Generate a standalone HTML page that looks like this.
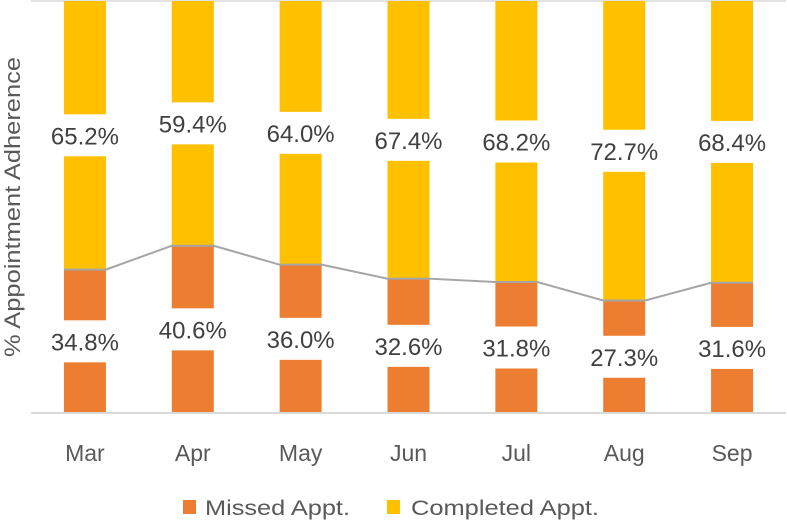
<!DOCTYPE html>
<html><head><meta charset="utf-8"><style>
html,body{margin:0;padding:0;background:#fff;}
svg{display:block;font-family:"Liberation Sans",sans-serif;}
</style></head><body>
<svg id="chart" width="787" height="521" viewBox="0 0 787 521">
  <line x1="31" y1="1" x2="786" y2="1" stroke="#d9d9d9" stroke-width="1.5"/>
  <g id="bars"></g>
  <line x1="31" y1="413" x2="786" y2="413" stroke="#d9d9d9" stroke-width="2"/>
  <text x="0" y="0" transform="translate(20,207) rotate(-90)" text-anchor="middle" font-size="22" fill="#595959" textLength="300" lengthAdjust="spacingAndGlyphs">% Appointment Adherence</text>
  <g>
    <rect x="183" y="500" width="13" height="14" fill="#ed7d31"/>
    <text x="205" y="515" font-size="21" fill="#595959" textLength="145" lengthAdjust="spacingAndGlyphs">Missed Appt.</text>
    <rect x="387" y="500" width="13" height="14" fill="#ffc000"/>
    <text x="411" y="515" font-size="21" fill="#595959" textLength="188" lengthAdjust="spacingAndGlyphs">Completed Appt.</text>
  </g>
</svg>
<script>
const months = ["Mar","Apr","May","Jun","Jul","Aug","Sep"];
const missed = [34.8, 40.6, 36.0, 32.6, 31.8, 27.3, 31.6];
const completed = [65.2, 59.4, 64.0, 67.4, 68.2, 72.7, 68.4];

const NS = "http://www.w3.org/2000/svg";
const svg = document.getElementById("chart");
const g = document.getElementById("bars");
const x0 = 31, x1 = 786, yTop = 1, yBase = 413;
const band = (x1 - x0) / months.length;
const barW = 42;
function xc(i){ return x0 + band * (i + 0.5); }
function y(v){ return yBase - (yBase - yTop) * v / 100; }
function mk(tag, attrs){ const e = document.createElementNS(NS, tag); for (const k in attrs) e.setAttribute(k, attrs[k]); return e; }

let pts = [];
months.forEach((m, i) => {
  const yy = y(missed[i]);
  pts.push((xc(i) - barW/2) + "," + yy, (xc(i) + barW/2) + "," + yy);
});

months.forEach((m, i) => {
  const cx = xc(i), bx = cx - barW/2;
  const ym = y(missed[i]), yc = y(missed[i] + completed[i]);
  const r1 = mk("rect", {x: bx, y: ym, width: barW, height: yBase - ym, fill: "#ed7d31"});
  
  
  g.appendChild(r1);
  const r2 = mk("rect", {x: bx, y: yc, width: barW, height: ym - yc, fill: "#ffc000"});
  
  
  g.appendChild(r2);
});

const line = mk("polyline", {points: pts.join(" "), fill: "none", stroke: "#a5a5a5", "stroke-width": 2});


g.appendChild(line);

months.forEach((m, i) => {
  const cx = xc(i);
  const ym = y(missed[i]), yc = y(missed[i] + completed[i]);
  [[missed[i], (ym + yBase)/2, 'missed'], [completed[i], (yc + ym)/2, 'completed']].forEach(([v, my, kind]) => {
    const bg = mk("rect", {x: cx - 40, y: my - 21, width: 80, height: 42, fill: "#fff"});
    
    
    g.appendChild(bg);
    const t = mk("text", {x: cx, y: my + 9, "text-anchor": "middle", "font-size": 24, fill: "#404040", textLength: 68, lengthAdjust: "spacingAndGlyphs"});
    t.textContent = v.toFixed(1) + "%";
    
    
    g.appendChild(t);
  });
  const xl = mk("text", {x: cx, y: 461, "text-anchor": "middle", "font-size": 23, fill: "#595959"});
  xl.textContent = m;
  
  
  svg.appendChild(xl);
});
</script>
</body></html>
